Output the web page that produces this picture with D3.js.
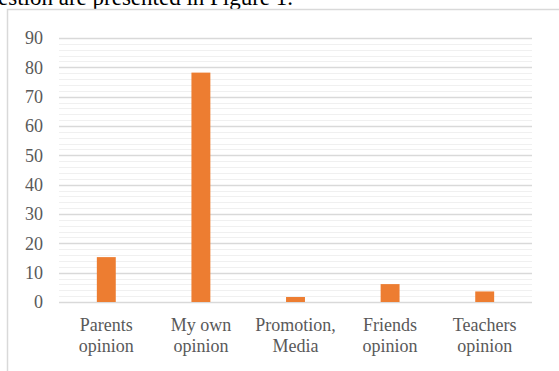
<!DOCTYPE html>
<html>
<head>
<meta charset="utf-8">
<script src="https://cdn.jsdelivr.net/npm/d3@7"></script>
<style>
  body { margin: 0; background: #fff; }
  svg { display: block; }
</style>
</head>
<body>
<div id="chart"></div>
<script>
var categories = [["Parents", "opinion"], ["My own", "opinion"], ["Promotion,", "Media"], ["Friends", "opinion"], ["Teachers", "opinion"]]
var values = [15.3, 78.2, 1.7, 6.1, 3.6]
var yTicks = [0, 10, 20, 30, 40, 50, 60, 70, 80, 90]

var serif = "'Liberation Serif', 'Times New Roman', serif"

var width = 559,
    height = 371;

var margin = { left: 59, right: 27, top: 38, bottom: 69 }
var innerW = width - margin.left - margin.right,
    innerH = height - margin.top - margin.bottom;

var svg = d3.select("#chart").append("svg")
    .attr("width", width)
    .attr("height", height);

// caption line of the document above the chart (cut off at the top)
svg.append("text")
    .attr("x", -2)
    .attr("y", 5)
    .style("font-family", serif)
    .style("font-size", "23px")
    .style("fill", "#000")
    .text("estion are presented in Figure 1.");

// chart frame
svg.append("rect")
    .attr("x", 7.5)
    .attr("y", 9.5)
    .attr("width", 700)
    .attr("height", 500)
    .attr("fill", "none")
    .attr("stroke", "#d9d9d9")
    .attr("stroke-width", 1.5);

var g = svg.append("g")
    .attr("transform", "translate(" + margin.left + "," + margin.top + ")");

var x = d3.scaleBand()
    .domain(d3.range(categories.length))
    .range([0, innerW])
    .paddingInner(0.8)
    .paddingOuter(0.4);

var y = d3.scaleLinear()
    .domain([0, 90])
    .range([innerH, 0]);

// minor grid every 2
g.append("g").selectAll("line")
    .data(d3.range(0, 91, 2).filter(function (d) { return d % 10 != 0 }))
    .enter().append("line")
    .attr("x1", 0).attr("x2", innerW)
    .attr("y1", function (d) { return Math.round(y(d)) + 0.5 })
    .attr("y2", function (d) { return Math.round(y(d)) + 0.5 })
    .attr("stroke", "#f0f0f0")
    .attr("stroke-width", 1);

// major grid
g.append("g").selectAll("line")
    .data(yTicks)
    .enter().append("line")
    .attr("x1", 0).attr("x2", innerW)
    .attr("y1", function (d) { return Math.round(y(d)) + 0.5 })
    .attr("y2", function (d) { return Math.round(y(d)) + 0.5 })
    .attr("stroke", "#d9d9d9")
    .attr("stroke-width", 1.3);

// y axis labels
var yAxis = g.append("g")
    .call(d3.axisLeft(y).tickValues(yTicks).tickSize(0).tickPadding(16));
yAxis.select(".domain").remove();
yAxis.attr("font-family", null).attr("font-size", null);
yAxis.selectAll("text")
    .style("font-family", serif)
    .style("font-size", "18px")
    .style("fill", "#595959");

// bars
g.selectAll(".bar")
    .data(values)
    .enter().append("rect")
    .attr("class", "bar")
    .attr("x", function (d, i) { return x(i) })
    .attr("width", x.bandwidth())
    .attr("y", function (d) { return y(d) })
    .attr("height", function (d) { return innerH - y(d) })
    .attr("fill", "#ed7d31");

// x axis, two line labels
var xAxis = g.append("g")
    .attr("transform", "translate(0," + innerH + ")")
    .call(d3.axisBottom(x).tickSize(0).tickFormat(""));
xAxis.select(".domain").remove();
xAxis.attr("font-family", null).attr("font-size", null);
xAxis.selectAll(".tick text").remove();
xAxis.selectAll(".tick").each(function (i) {
    var t = d3.select(this).append("text")
        .attr("y", 29)
        .attr("text-anchor", "middle")
        .style("font-family", serif)
        .style("font-size", "18px")
        .style("fill", "#595959");
    categories[i].forEach(function (line, k) {
        t.append("tspan")
            .attr("x", 0)
            .attr("dy", k == 0 ? 0 : 20.5)
            .text(line);
    });
});
</script>
</body>
</html>
